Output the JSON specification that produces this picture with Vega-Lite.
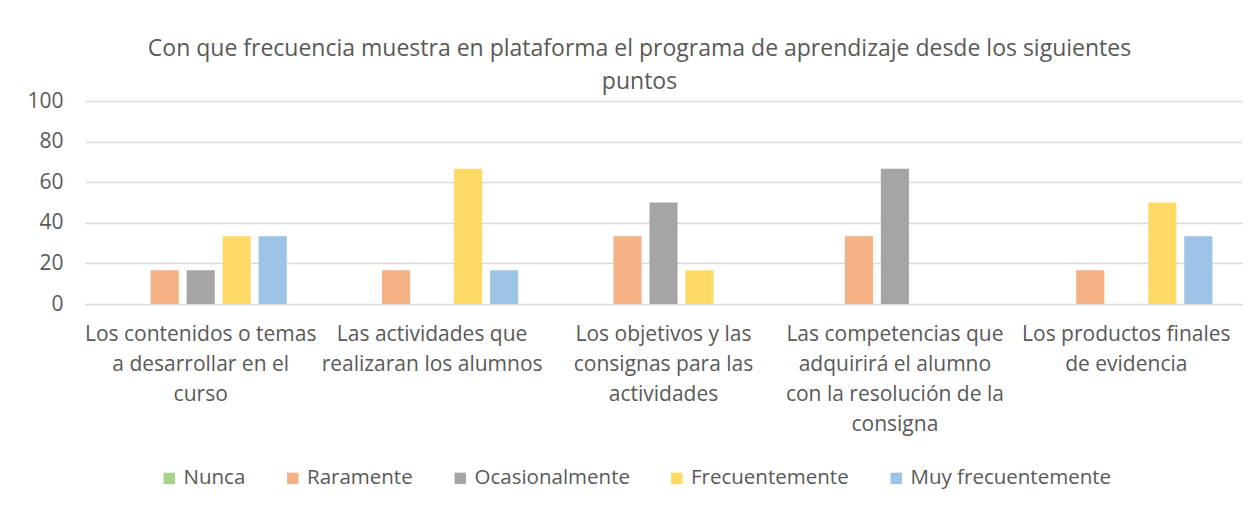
{
  "$schema": "https://vega.github.io/schema/vega-lite/v6.json",
  "width": 1157,
  "height": 203,
  "autosize": {"type": "none"},
  "padding": {"left": 85, "top": 101, "right": 18, "bottom": 206},
  "background": "white",
  "title": {
    "text": ["Con que frecuencia muestra en plataforma el programa de aprendizaje desde los siguientes", "puntos"],
    "font": "Open Sans",
    "fontSize": 23,
    "fontWeight": "normal",
    "color": "#595959",
    "lineHeight": 33,
    "anchor": "middle",
    "dx": -24,
    "offset": -4
  },
  "data": {
    "values": [
      {"categoria": "Los contenidos o temas a desarrollar en el curso", "serie": "Nunca", "valor": 0},
      {"categoria": "Los contenidos o temas a desarrollar en el curso", "serie": "Raramente", "valor": 16.67},
      {"categoria": "Los contenidos o temas a desarrollar en el curso", "serie": "Ocasionalmente", "valor": 16.67},
      {"categoria": "Los contenidos o temas a desarrollar en el curso", "serie": "Frecuentemente", "valor": 33.33},
      {"categoria": "Los contenidos o temas a desarrollar en el curso", "serie": "Muy frecuentemente", "valor": 33.33},
      {"categoria": "Las actividades que realizaran los alumnos", "serie": "Nunca", "valor": 0},
      {"categoria": "Las actividades que realizaran los alumnos", "serie": "Raramente", "valor": 16.67},
      {"categoria": "Las actividades que realizaran los alumnos", "serie": "Ocasionalmente", "valor": 0},
      {"categoria": "Las actividades que realizaran los alumnos", "serie": "Frecuentemente", "valor": 66.67},
      {"categoria": "Las actividades que realizaran los alumnos", "serie": "Muy frecuentemente", "valor": 16.67},
      {"categoria": "Los objetivos y las consignas para las actividades", "serie": "Nunca", "valor": 0},
      {"categoria": "Los objetivos y las consignas para las actividades", "serie": "Raramente", "valor": 33.33},
      {"categoria": "Los objetivos y las consignas para las actividades", "serie": "Ocasionalmente", "valor": 50},
      {"categoria": "Los objetivos y las consignas para las actividades", "serie": "Frecuentemente", "valor": 16.67},
      {"categoria": "Los objetivos y las consignas para las actividades", "serie": "Muy frecuentemente", "valor": 0},
      {"categoria": "Las competencias que adquirirá el alumno con la resolución de la consigna", "serie": "Nunca", "valor": 0},
      {"categoria": "Las competencias que adquirirá el alumno con la resolución de la consigna", "serie": "Raramente", "valor": 33.33},
      {"categoria": "Las competencias que adquirirá el alumno con la resolución de la consigna", "serie": "Ocasionalmente", "valor": 66.67},
      {"categoria": "Las competencias que adquirirá el alumno con la resolución de la consigna", "serie": "Frecuentemente", "valor": 0},
      {"categoria": "Las competencias que adquirirá el alumno con la resolución de la consigna", "serie": "Muy frecuentemente", "valor": 0},
      {"categoria": "Los productos finales de evidencia", "serie": "Nunca", "valor": 0},
      {"categoria": "Los productos finales de evidencia", "serie": "Raramente", "valor": 16.67},
      {"categoria": "Los productos finales de evidencia", "serie": "Ocasionalmente", "valor": 0},
      {"categoria": "Los productos finales de evidencia", "serie": "Frecuentemente", "valor": 50},
      {"categoria": "Los productos finales de evidencia", "serie": "Muy frecuentemente", "valor": 33.33}
    ]
  },
  "mark": {"type": "bar"},
  "encoding": {
    "x": {
      "field": "categoria",
      "type": "nominal",
      "sort": null,
      "scale": {"paddingInner": 0.222, "paddingOuter": 0.111},
      "axis": {
        "title": null,
        "labelAngle": 0,
        "labelFont": "Open Sans",
        "labelFontSize": 21,
        "labelColor": "#595959",
        "labelLineHeight": 30,
        "labelPadding": 19,
        "labelBaseline": "top",
        "ticks": false,
        "domainColor": "#D9D9D9",
        "labelLimit": 0,
        "labelExpr": "datum.label == 'Los contenidos o temas a desarrollar en el curso' ? ['Los contenidos o temas', 'a desarrollar en el', 'curso'] : datum.label == 'Las actividades que realizaran los alumnos' ? ['Las actividades que', 'realizaran los alumnos'] : datum.label == 'Los objetivos y las consignas para las actividades' ? ['Los objetivos y las', 'consignas para las', 'actividades'] : datum.label == 'Las competencias que adquirirá el alumno con la resolución de la consigna' ? ['Las competencias que', 'adquirirá el alumno', 'con la resolución de la', 'consigna'] : ['Los productos finales', 'de evidencia']"
      }
    },
    "xOffset": {
      "field": "serie",
      "type": "nominal",
      "sort": ["Nunca", "Raramente", "Ocasionalmente", "Frecuentemente", "Muy frecuentemente"],
      "scale": {"paddingInner": 0.22, "paddingOuter": 0.11}
    },
    "y": {
      "field": "valor",
      "type": "quantitative",
      "scale": {"domain": [0, 100]},
      "axis": {
        "title": null,
        "values": [0, 20, 40, 60, 80, 100],
        "labelFont": "Open Sans",
        "labelFontSize": 21,
        "labelColor": "#595959",
        "labelPadding": 22,
        "ticks": false,
        "domain": false,
        "gridColor": "#D9D9D9",
        "gridWidth": 1.3
      }
    },
    "color": {
      "field": "serie",
      "type": "nominal",
      "sort": ["Nunca", "Raramente", "Ocasionalmente", "Frecuentemente", "Muy frecuentemente"],
      "scale": {
        "domain": ["Nunca", "Raramente", "Ocasionalmente", "Frecuentemente", "Muy frecuentemente"],
        "range": ["#A9D18E", "#F4B183", "#A5A5A5", "#FFD966", "#9DC3E6"]
      },
      "legend": {
        "title": null,
        "orient": "none",
        "direction": "horizontal",
        "legendX": 74,
        "legendY": 367,
        "symbolType": "square",
        "symbolSize": 130,
        "symbolStrokeWidth": 0,
        "labelFont": "Open Sans",
        "labelFontSize": 20.5,
        "labelColor": "#595959",
        "labelOffset": 4,
        "columnPadding": 36.5,
        "labelLimit": 0
      }
    }
  },
  "config": {"view": {"stroke": null}}
}
